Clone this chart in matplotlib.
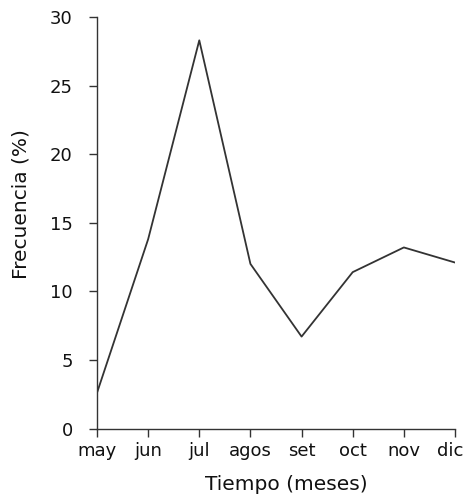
import matplotlib
matplotlib.use("Agg")
import matplotlib.pyplot as plt
import matplotlib.transforms as mtransforms

meses = ["may", "jun", "jul", "agos", "set", "oct", "nov", "dic"]
frecuencia = [2.6, 13.8, 28.3, 12.0, 6.7, 11.4, 13.2, 12.1]
yticks = [0, 5, 10, 15, 20, 25, 30]

plt.rcParams['font.family'] = ['DejaVu Sans']

fig = plt.figure(figsize=(4.65, 4.99), dpi=100)
ax = fig.add_axes([97/465, 1-428.5/499, (455-97)/465, (428.5-17)/499])
x = list(range(len(meses)))
ax.plot(x, frecuencia, color='#333333', lw=1.3)
ax.set_xlim(0, len(meses)-1)
ax.set_ylim(0, 30)
ax.set_xticks(x)
ax.set_xticklabels(meses)
ax.set_yticks(yticks)
for s in ['top', 'right']:
    ax.spines[s].set_visible(False)
for s in ['left', 'bottom']:
    ax.spines[s].set_color('#333333')
    ax.spines[s].set_linewidth(1.0)
ax.tick_params(axis='both', labelsize=13, length=5.5, width=1.0, color='#333333', labelcolor='#111111')
ax.tick_params(axis='x', pad=4)
ax.tick_params(axis='y', pad=12)

# shift last label slightly left so it stays inside the figure
last = ax.get_xticklabels()[-1]
last.set_transform(last.get_transform() + mtransforms.ScaledTranslation(-5/100, 0, fig.dpi_scale_trans))

ax.set_xlabel("Tiempo (meses)", fontsize=14.5, color='#111111')
ax.set_ylabel("Frecuencia (%)", fontsize=14.5, color='#111111')
ax.xaxis.set_label_coords((286.5-97)/358, (428.5-475)/411.5)
ax.yaxis.set_label_coords((31-97)/358, (428.5-204.5)/411.5)
fig.savefig("out.png", dpi=100)
